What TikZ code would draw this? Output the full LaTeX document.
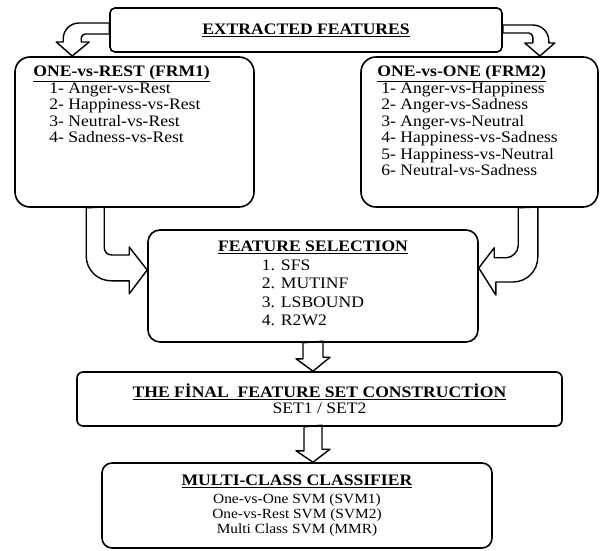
\documentclass[tikz,border=0pt]{standalone}
\usepackage{fontspec}
\setmainfont{Liberation Serif}[FakeStretch=1.1]

\begin{document}
\begin{tikzpicture}[x=1pt,y=1pt,
  box/.style={draw,line width=1.6pt,fill=white,inner sep=0pt,align=center},
  blk/.style={draw,line width=1.4pt,line join=round},
  txt/.style={anchor=north west,align=left,inner sep=0pt,font=\fontsize{16}{16.5}\selectfont}]
  \useasboundingbox (0,0) rectangle (603,550);

  % Extracted features
  \node[box,rounded corners=5pt,minimum width=392pt,minimum height=44pt,font=\fontsize{16}{18}\selectfont] (extr) at (306,520) {\underline{\textbf{EXTRACTED FEATURES}}};

  % One-vs-Rest
  \node[box,rounded corners=15pt,minimum width=239pt,minimum height=150pt] (ovr) at (134.5,418) {};
  \node[txt] (ovrtxt) at ([xshift=19pt,yshift=-9pt]ovr.north west) {
    \underline{\textbf{ONE-vs-REST (FRM1)}}\\
    \hspace*{16pt}1- Anger-vs-Rest\\
    \hspace*{16pt}2- Happiness-vs-Rest\\
    \hspace*{16pt}3- Neutral-vs-Rest\\
    \hspace*{16pt}4- Sadness-vs-Rest
  };

  % One-vs-One
  \node[box,rounded corners=15pt,minimum width=237pt,minimum height=150pt] (ovo) at (479.5,418) {};
  \node[txt] (ovotxt) at ([xshift=17pt,yshift=-9pt]ovo.north west) {
    \underline{\textbf{ONE-vs-ONE (FRM2)}}\\
    \hspace*{4pt}1- Anger-vs-Happiness\\
    \hspace*{4pt}2- Anger-vs-Sadness\\
    \hspace*{4pt}3- Anger-vs-Neutral\\
    \hspace*{4pt}4- Happiness-vs-Sadness\\
    \hspace*{4pt}5- Happiness-vs-Neutral\\
    \hspace*{4pt}6- Neutral-vs-Sadness
  };

  % Feature selection
  \node[box,rounded corners=12pt,minimum width=330pt,minimum height=112pt,font=\fontsize{16}{18.5}\selectfont] (fs) at (313,264) {
    \underline{\textbf{FEATURE SELECTION}}\\
    \begin{tabular}[t]{@{}l@{}}1. SFS\\ 2. MUTINF\\ 3. LSBOUND\\ 4. R2W2\end{tabular}
  };

  % Final feature set
  \node[box,rounded corners=6pt,minimum width=485pt,minimum height=54pt,font=\fontsize{16}{15}\selectfont] (fin) at (319.5,151) {
    \underline{\textbf{THE FİNAL\ \ FEATURE SET CONSTRUCTİON}}\\[1pt]
    SET1 / SET2
  };

  % Classifier
  \node[box,rounded corners=10pt,minimum width=390pt,minimum height=85pt,font=\fontsize{14}{15}\selectfont] (mcc) at (297,44.5) {
    {\fontsize{16}{18}\selectfont\underline{\textbf{MULTI-CLASS CLASSIFIER}}}\\[3pt]
    One-vs-One SVM (SVM1)\\
    One-vs-Rest SVM (SVM2)\\
    Multi Class SVM (MMR)
  };

  % Arrows out of the top box
  \draw[blk] ([yshift=7pt]extr.west) -- ++(-30,0) .. controls +(-9,0) and +(0,9) .. ++(-16,-16)
    -- ++(0,-3) -- ++(-7,0) -- ++(16,-14) -- ++(17,14) -- ++(-8,0) -- ++(0,4)
    .. controls +(0,2) and +(-2,0) .. ++(4,4) -- ([yshift=-4pt]extr.west) -- cycle;
  \draw[blk] ([yshift=5pt]extr.east) -- ++(30,0) .. controls +(9,0) and +(0,9) .. ++(16,-16)
    -- ++(0,-2) -- ++(6,0) -- ++(-15,-13) -- ++(-15,13) -- ++(8,0) -- ++(0,6)
    .. controls +(0,2) and +(2,0) .. ++(-4,4) -- ([yshift=-3pt]extr.east) -- cycle;

  % Arrows into feature selection
  \draw[blk] ([xshift=72pt]ovr.south west) -- ++(0,-48) .. controls +(0,-14) and +(-14,0) .. ++(25,-25)
    -- ++(18,0) -- ++(0,-13) -- ([yshift=16pt]fs.west) -- ++(-18,23) -- ++(0,-8) -- ++(-17,0)
    .. controls +(-5,0) and +(0,-5) .. ++(-8,8) -- ++(0,40) -- cycle;
  \draw[blk] ([xshift=158pt]ovo.south west) -- ++(0,-38) .. controls +(0,-6) and +(6,0) .. ++(-12,-12)
    -- ++(-12,0) -- ++(0,10) -- ([yshift=18pt]fs.east) -- ++(17,-27) -- ++(0,13) -- ++(17,0)
    .. controls +(14,0) and +(0,-14) .. ++(25,25) -- ++(0,50) -- cycle;

  % Down arrows
  \draw[blk] ([xshift=-10pt]fs.south) -- ++(0,-16) -- ++(-7,0) -- (fs.south |- fin.north)
    -- ++(17,14) -- ++(-7,0) -- ++(0,16) -- cycle;
  \coordinate (a6) at (fs.south |- fin.south);
  \draw[blk] ([xshift=-9pt]a6) -- ++(0,-24) -- ++(-8,0) -- (a6 |- mcc.north)
    -- ++(17,13) -- ++(-8,0) -- ++(0,24) -- cycle;
\end{tikzpicture}
\end{document}
